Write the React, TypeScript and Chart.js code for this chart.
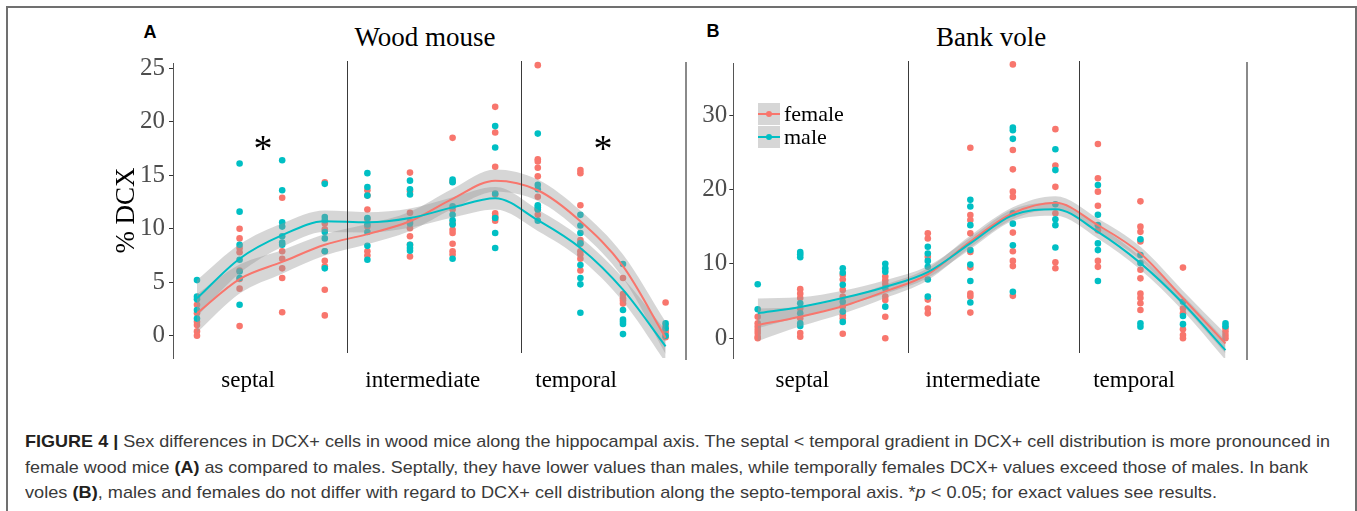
import React, { useEffect, useLayoutEffect, useRef } from 'react';
import { Chart, registerables } from 'chart.js';
Chart.register(...registerables);

// ---------- data ----------
const columns = [1, 2, 3, 4, 5, 6, 7, 8, 9, 10, 11, 12];
const regionLabels = ['septal', 'intermediate', 'temporal'];
const regionLabelPosA = [2.2, 6.3, 9.9];
const regionLabelPosB = [2.05, 6.3, 9.85];
const separatorsA = [4.52, 8.6];
const separatorsB = [4.53, 8.55];
const yTicksA = [0, 5, 10, 15, 20, 25];
const yTicksB = [0, 10, 20, 30];
const starsA = [{ x: 2.55, y: 18.0 }, { x: 10.53, y: 18.0 }];

// Wood mouse (A) - individual points per column
const femalePtsA = [
  [2.9, 2.1, 1.3, 1.0, 0.4, 0.0],
  [10.0, 9.1, 8.2, 7.8, 6.1, 5.3, 4.4, 0.9],
  [12.9, 7.9, 7.2, 6.3, 5.4, 2.2],
  [14.35, 10.5, 9.95, 7.9, 7.0, 6.5, 4.3, 1.9],
  [13.6, 13.1, 11.8, 10.9, 10.2, 7.9, 7.5],
  [15.25, 13.5, 11.5, 10.7, 10.05, 9.3, 8.5, 7.4],
  [18.5, 14.4, 11.8, 10.5, 9.9, 9.6, 8.6, 7.9, 7.6],
  [21.4, 19.0, 15.8, 13.2, 11.45, 11.2, 11.0, 10.75],
  [25.3, 16.5, 16.3, 15.7, 14.9, 13.0, 11.8, 11.3],
  [15.5, 15.2, 12.2, 8.95, 8.6, 7.9, 7.6, 7.2, 6.1],
  [5.4, 3.9, 3.5, 3.3, 3.0],
  [3.1, 0.9, 0.5, 0.3, -0.15],
];
const malePtsA = [
  [5.2, 3.65, 3.4, 2.4, 1.6],
  [16.1, 11.6, 8.5, 7.1, 6.0, 5.4, 2.9],
  [16.4, 13.6, 10.6, 10.2, 9.3, 8.7, 8.5],
  [14.2, 11.1, 10.8, 9.7, 9.1, 7.9, 6.3],
  [15.2, 13.9, 13.1, 11.0, 10.4, 9.7, 8.4, 7.1],
  [14.5, 13.7, 13.2, 10.5, 8.5, 8.2, 7.95],
  [14.6, 14.35, 12.1, 11.3, 10.8, 10.4, 7.2],
  [19.6, 17.6, 13.3, 11.0, 9.6, 8.2],
  [18.9, 14.1, 13.7, 12.2, 12.0, 11.8, 10.75],
  [11.3, 10.3, 9.6, 8.65, 6.6, 5.4, 4.8, 2.15],
  [6.7, 2.4, 1.5, 1.3, 1.1, 0.15],
  [1.15, 0.7, 0.0],
];
const femaleFitA = [2.1, 5.3, 6.9, 8.5, 9.5, 10.7, 12.8, 14.5, 13.6, 10.7, 6.5, -0.2];
const femaleUpperA = [3.9, 6.65, 8.0, 9.5, 10.45, 11.6, 13.75, 15.55, 14.6, 11.7, 7.6, 1.3];
const femaleLowerA = [0.3, 3.95, 5.8, 7.5, 8.55, 9.8, 11.85, 13.45, 12.6, 9.7, 5.4, -1.7];
const maleFitA = [3.5, 7.2, 9.4, 10.7, 10.6, 11.0, 12.0, 12.85, 10.8, 8.2, 4.3, -1.0];
const maleUpperA = [5.2, 8.55, 10.5, 11.7, 11.55, 11.9, 12.95, 13.9, 11.8, 9.2, 5.4, 0.5];
const maleLowerA = [1.8, 5.85, 8.3, 9.7, 9.65, 10.1, 11.05, 11.8, 9.8, 7.2, 3.2, -2.5];

// Bank vole (B)
const femalePtsB = [
  [2.9, 2.0, 1.55, 1.1, 0.7, 0.2, 0.0],
  [6.6, 6.0, 5.4, 4.0, 2.7, 0.7, 0.2],
  [8.5, 7.9, 6.5, 5.6, 4.25, 3.1, 2.7, 0.6],
  [8.3, 7.8, 7.3, 5.6, 5.15, 2.9, 0.0],
  [14.1, 13.4, 10.95, 5.2, 4.0, 3.35],
  [25.6, 16.55, 15.9, 14.1, 11.6, 9.5, 6.0, 5.6, 3.45],
  [36.8, 25.3, 22.7, 19.7, 19.0, 14.2, 11.7, 10.4, 9.7, 5.7],
  [28.1, 23.2, 20.35, 16.8, 10.2, 9.4],
  [26.1, 21.5, 19.7, 17.8, 14.5, 10.4, 9.6],
  [18.4, 15.0, 14.3, 13.0, 9.2, 8.05, 6.0, 5.4, 4.7, 3.8],
  [9.5, 4.0, 3.35, 1.2, 0.45, 0.0],
  [1.35, 0.9, 0.45, 0.0],
];
const malePtsB = [
  [7.25, 3.9],
  [11.6, 11.3, 10.9, 4.7, 3.35, 2.0, 1.65],
  [9.4, 8.8, 7.2, 4.9, 3.6, 2.2],
  [10.0, 9.4, 8.95, 6.7, 4.25],
  [12.3, 11.4, 10.4, 9.6, 7.9, 5.6],
  [18.6, 17.7, 15.2, 11.85, 9.9, 7.7, 4.8],
  [28.3, 27.95, 26.8, 16.8, 15.4, 12.5, 6.25],
  [25.4, 22.6, 18.0, 16.0, 15.2, 12.2],
  [20.6, 16.6, 15.2, 12.75, 11.85, 7.7],
  [13.3, 11.2, 10.1, 2.0, 1.55],
  [4.9, 3.0, 1.9],
  [2.0, 1.6],
];
const femaleFitB = [1.8, 2.9, 4.3, 6.3, 8.6, 13.0, 16.8, 18.2, 15.2, 11.4, 5.4, -0.7];
const femaleUpperB = [4.0, 4.2, 5.3, 7.2, 9.4, 13.8, 17.6, 19.1, 16.1, 12.3, 6.4, 0.6];
const femaleLowerB = [-0.4, 1.6, 3.3, 5.4, 7.8, 12.2, 16.0, 17.3, 14.3, 10.5, 4.4, -2.0];
const maleFitB = [3.35, 4.2, 5.4, 6.9, 8.9, 12.75, 16.55, 17.35, 14.3, 10.1, 4.7, -1.6];
const maleUpperB = [5.35, 5.5, 6.4, 7.8, 9.7, 13.55, 17.35, 18.25, 15.2, 11.0, 5.7, -0.3];
const maleLowerB = [1.35, 2.9, 4.4, 6.0, 8.1, 11.95, 15.75, 16.45, 13.4, 9.2, 3.7, -2.9];

const RED = '#F8766D';
const TEAL = '#00BFC4';
const BAND = 'rgba(153,153,153,0.4)';
const SERIF = '"Liberation Serif", "Times New Roman", serif';
const SANS = '"Liberation Sans", Arial, sans-serif';

type Pt = { x: number; y: number };
type PanelProps = {
  left: number; top: number; width: number; height: number;
  yAxisWidth: number; tickPad: number;
  xMin: number; xMax: number; yMin: number; yMax: number;
  yTicks: number[]; labelPos: number[];
  femalePts: number[][]; malePts: number[][];
  femaleFit: number[]; femaleUpper: number[]; femaleLower: number[];
  maleFit: number[]; maleUpper: number[]; maleLower: number[];
  separators: number[]; stars: Pt[]; yTitle: string;
};

function Panel(p: PanelProps) {
  const ref = useRef<HTMLCanvasElement>(null);
  useEffect(() => {
    if (!ref.current) return;
    const flat = (cols: number[][]) => cols.flatMap((vals, i) => vals.map((v) => ({ x: columns[i], y: v })));
    const curve = (vals: number[]) => vals.map((v, i) => ({ x: columns[i], y: v }));
    const lineDs = (vals: number[], color: string) => ({
      data: curve(vals), borderColor: color, borderWidth: 2, pointRadius: 0, fill: false,
      cubicInterpolationMode: 'monotone', order: 0,
    });
    const bandDs = (vals: number[], fill: any) => ({
      data: curve(vals), borderColor: 'rgba(0,0,0,0)', borderWidth: 0, backgroundColor: BAND,
      pointRadius: 0, fill, cubicInterpolationMode: 'monotone', order: 1,
    });
    const ptDs = (cols: number[][], color: string) => ({
      data: flat(cols), showLine: false, pointRadius: 3.3, pointBackgroundColor: color,
      pointBorderWidth: 0, pointBorderColor: color, order: 2, clip: false,
    });
    const decor = {
      id: 'decor',
      afterDatasetsDraw(chart: any) {
        const { ctx, chartArea: ca, scales } = chart;
        const xs = scales.x, ys = scales.y;
        ctx.save();
        ctx.strokeStyle = '#3a3a3a';
        ctx.lineWidth = 1;
        p.separators.forEach((s) => {
          const px = Math.round(xs.getPixelForValue(s)) + 0.5;
          ctx.beginPath();
          ctx.moveTo(px, ca.top - 2);
          ctx.lineTo(px, ca.bottom - 5);
          ctx.stroke();
        });
        ctx.strokeStyle = '#8a8a8a';
        ctx.lineWidth = 2;
        ctx.beginPath();
        ctx.moveTo(ca.right, ca.top - 1);
        ctx.lineTo(ca.right, ca.bottom + 2);
        ctx.stroke();
        ctx.fillStyle = '#000';
        ctx.font = '38px ' + SERIF;
        ctx.textAlign = 'center';
        ctx.textBaseline = 'alphabetic';
        p.stars.forEach((s) => {
          const m = ctx.measureText('*');
          const cx = xs.getPixelForValue(s.x);
          const cy = ys.getPixelForValue(s.y);
          ctx.fillText('*', cx, cy + (m.actualBoundingBoxAscent - m.actualBoundingBoxDescent) / 2);
        });
        ctx.restore();
      },
    };
    const chart = new Chart(ref.current, {
      type: 'line',
      data: {
        datasets: [
          lineDs(p.maleFit, TEAL),
          lineDs(p.femaleFit, RED),
          bandDs(p.maleUpper, '+1'),
          bandDs(p.maleLower, false),
          bandDs(p.femaleUpper, '+1'),
          bandDs(p.femaleLower, false),
          ptDs(p.malePts, TEAL),
          ptDs(p.femalePts, RED),
        ] as any,
      },
      options: {
        responsive: false,
        animation: false,
        events: [],
        layout: { padding: { top: 23, right: 4, left: 0, bottom: 0 } },
        plugins: { legend: { display: false }, tooltip: { enabled: false } },
        scales: {
          x: {
            type: 'linear', min: p.xMin, max: p.xMax,
            afterFit: (s: any) => { s.height = 40; },
            afterBuildTicks: (s: any) => { s.ticks = p.labelPos.map((v) => ({ value: v })); },
            ticks: {
              callback: (_v: any, i: number) => regionLabels[i],
              font: { family: SERIF, size: 23 }, color: '#000', padding: 9,
              maxRotation: 0, autoSkip: false,
            },
            grid: { display: false, drawTicks: false },
            border: { display: false },
          },
          y: {
            type: 'linear', min: p.yMin, max: p.yMax,
            afterFit: (s: any) => { s.width = p.yAxisWidth; },
            afterBuildTicks: (s: any) => { s.ticks = p.yTicks.map((v) => ({ value: v })); },
            ticks: {
              callback: (v: any) => String(v),
              font: { family: SERIF, size: 25 }, color: '#4d4d4d', padding: p.tickPad,
            },
            grid: { drawOnChartArea: false, drawTicks: true, tickLength: 4, tickColor: '#333', tickWidth: 1 },
            border: { display: true, color: '#555', width: 1 },
            title: {
              display: !!p.yTitle, text: p.yTitle, color: '#000', padding: 0,
              font: { family: SERIF, size: 27 },
            },
          },
        },
      } as any,
      plugins: [decor],
    });
    return () => chart.destroy();
  }, []);
  return (
    <canvas
      ref={ref}
      width={p.width}
      height={p.height}
      style={{ position: 'absolute', left: p.left, top: p.top, width: p.width, height: p.height }}
    />
  );
}

const captionTargets = [1305, 1283, 1192];

function LegendKey({ top, color, label }: { top: number; color: string; label: string }) {
  return (
    <>
      <div style={{ position: 'absolute', left: 758, top, width: 22, height: 22, background: '#d6d6d6' }}>
        <div style={{ position: 'absolute', left: 0, top: 10, width: 22, height: 2, background: color }} />
        <div style={{ position: 'absolute', left: 8, top: 8, width: 6, height: 6, borderRadius: '50%', background: color }} />
      </div>
      <div style={{ position: 'absolute', left: 784, top: top - 0.5, fontFamily: SERIF, fontSize: 22, lineHeight: '22px', color: '#000', whiteSpace: 'nowrap' }}>
        {label}
      </div>
    </>
  );
}

export default function App() {
  const capRefs = [useRef<HTMLSpanElement>(null), useRef<HTMLSpanElement>(null), useRef<HTMLSpanElement>(null)];
  useLayoutEffect(() => {
    const fit = () => {
      capRefs.forEach((r, i) => {
        const el = r.current;
        if (!el) return;
        el.style.transform = 'none';
        const w = el.getBoundingClientRect().width;
        if (w > 0) el.style.transform = `scaleX(${captionTargets[i] / w})`;
      });
    };
    fit();
    if ((document as any).fonts && (document as any).fonts.ready) (document as any).fonts.ready.then(fit);
  }, []);

  const capStyle = (top: number): React.CSSProperties => ({
    position: 'absolute', left: 25, top, fontFamily: SANS, fontSize: 17, lineHeight: '17px',
    color: '#3a3a3a', whiteSpace: 'nowrap', display: 'inline-block', transformOrigin: '0 0',
  });

  return (
    <div style={{ position: 'fixed', left: 0, top: 0, width: 1357, height: 511, background: '#fff', overflow: 'hidden' }}>
      <div style={{ position: 'absolute', left: 6, top: 6, width: 1351, height: 600, border: '2px solid #707070', boxSizing: 'border-box' }} />

      <div style={{ position: 'absolute', left: 150, top: 22.5, transform: 'translateX(-50%)', fontFamily: SANS, fontWeight: 'bold', fontSize: 18, lineHeight: '18px', color: '#000' }}>A</div>
      <div style={{ position: 'absolute', left: 713, top: 22, transform: 'translateX(-50%)', fontFamily: SANS, fontWeight: 'bold', fontSize: 18, lineHeight: '18px', color: '#000' }}>B</div>
      <div style={{ position: 'absolute', left: 425, top: 24, transform: 'translateX(-50%)', fontFamily: SERIF, fontSize: 27, lineHeight: '27px', color: '#000', whiteSpace: 'nowrap' }}>Wood mouse</div>
      <div style={{ position: 'absolute', left: 991, top: 23.5, transform: 'translateX(-50%)', fontFamily: SERIF, fontSize: 27, lineHeight: '27px', color: '#000', whiteSpace: 'nowrap' }}>Bank vole</div>

      <Panel
        left={111} top={40} width={579} height={358} yAxisWidth={62} tickPad={4}
        xMin={0.437} xMax={12.479} yMin={-2.085} yMax={25.5}
        yTicks={yTicksA} labelPos={regionLabelPosA}
        femalePts={femalePtsA} malePts={malePtsA}
        femaleFit={femaleFitA} femaleUpper={femaleUpperA} femaleLower={femaleLowerA}
        maleFit={maleFitA} maleUpper={maleUpperA} maleLower={maleLowerA}
        separators={separatorsA} stars={starsA} yTitle="% DCX"
      />
      <Panel
        left={680} top={40} width={571} height={358} yAxisWidth={53.3} tickPad={2}
        xMin={0.426} xMax={12.506} yMin={-2.65} yMax={36.99}
        yTicks={yTicksB} labelPos={regionLabelPosB}
        femalePts={femalePtsB} malePts={malePtsB}
        femaleFit={femaleFitB} femaleUpper={femaleUpperB} femaleLower={femaleLowerB}
        maleFit={maleFitB} maleUpper={maleUpperB} maleLower={maleLowerB}
        separators={separatorsB} stars={[]} yTitle=""
      />

      <LegendKey top={103} color={RED} label="female" />
      <LegendKey top={126} color={TEAL} label="male" />

      <span ref={capRefs[0]} style={capStyle(433.1)}>
        <b style={{ color: '#231f20' }}>FIGURE 4 |</b> Sex differences in DCX+ cells in wood mice along the hippocampal axis. The septal &lt; temporal gradient in DCX+ cell distribution is more pronounced in
      </span>
      <span ref={capRefs[1]} style={capStyle(458.6)}>
        female wood mice <b style={{ color: '#231f20' }}>(A)</b> as compared to males. Septally, they have lower values than males, while temporally females DCX+ values exceed those of males. In bank
      </span>
      <span ref={capRefs[2]} style={capStyle(484.1)}>
        voles <b style={{ color: '#231f20' }}>(B)</b>, males and females do not differ with regard to DCX+ cell distribution along the septo-temporal axis. *<i>p</i> &lt; 0.05; for exact values see results.
      </span>
    </div>
  );
}
